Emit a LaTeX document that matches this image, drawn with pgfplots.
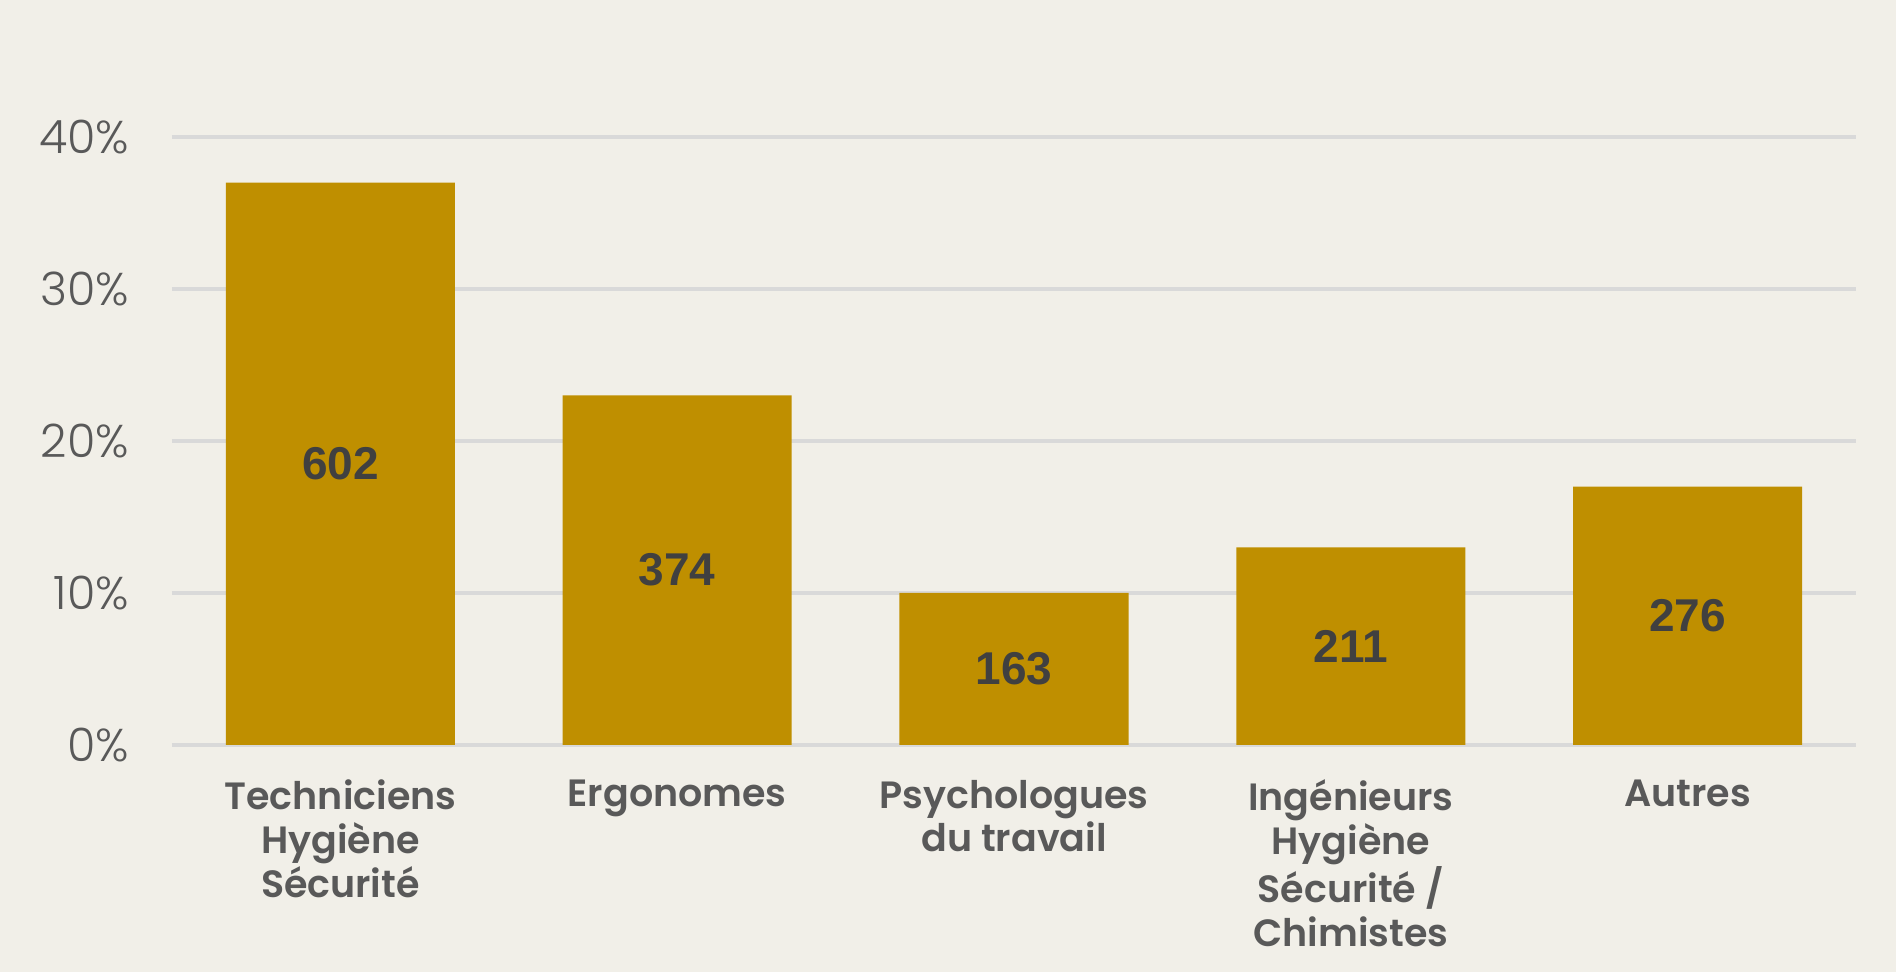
\documentclass[border=0pt]{standalone}
\usepackage{pgfplots}
\pgfplotsset{compat=1.18}
\usepackage{fontspec}
\setmainfont{Poppins}[BoldFont={Poppins SemiBold}]
\newfontfamily\poplight{Poppins Light}
\newfontfamily\arialb{Liberation Sans}
\definecolor{bgcol}{HTML}{F1EFE8}
\definecolor{barcol}{HTML}{BF8F00}
\definecolor{gridcol}{HTML}{D9D9D9}
\definecolor{txtcol}{HTML}{595959}
\definecolor{lblcol}{HTML}{404040}
\begin{document}
\begin{tikzpicture}
% canvas 1896x972 px, 1px = 0.5pt
\fill[bgcol] (-86pt,-113.5pt) rectangle (862pt,372.5pt);
\begin{axis}[
  at={(0,0)}, anchor=south west,
  scale only axis,
  width=842pt, height=304pt,
  ybar, bar width=0.68,
  xmin=-0.5, xmax=4.5,
  ymin=0, ymax=40,
  axis line style={draw=none},
  ymajorgrids,
  grid style={gridcol, line width=1.8pt},
  major tick length=0pt,
  xtick={0,1,2,3,4},
  xticklabels={Techniciens\\Hygiène\\Sécurité, Ergonomes, Psychologues\\du travail, Ingénieurs\\Hygiène\\Sécurité /\\Chimistes, Autres},
  xticklabel style={align=center, text=txtcol, font=\bfseries\fontsize{19}{21.8}\selectfont, yshift=-14pt},
  ytick={0,10,20,30,40},
  yticklabels={0\%,10\%,20\%,30\%,40\%},
  yticklabel style={text=txtcol, font=\poplight\fontsize{23}{27}\selectfont, xshift=-18pt},
  point meta=explicit symbolic,
  visualization depends on={y \as \rawy},
  nodes near coords={\arialb\bfseries\fontsize{23}{26}\selectfont\pgfplotspointmeta},
  every node near coord/.append style={anchor=center, text=lblcol,
    shift={(axis direction cs:0,-\rawy/2)}},
]
\addplot[fill=barcol, draw=none] coordinates {
  (0,37.0) [602]
  (1,23.0) [374]
  (2,10.0) [163]
  (3,13.0) [211]
  (4,17.0) [276]
};
\end{axis}
\end{tikzpicture}
\end{document}
